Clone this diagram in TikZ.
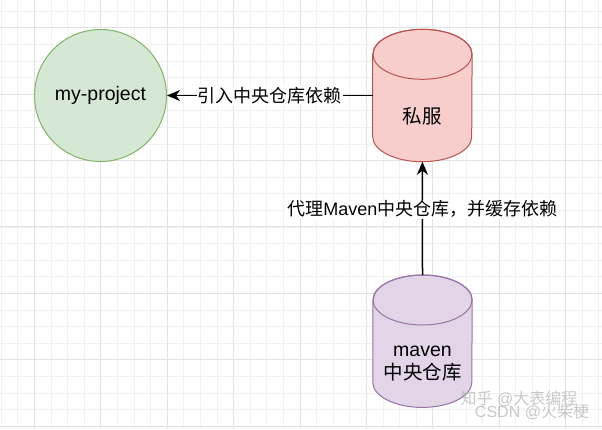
\documentclass[tikz,border=0pt]{standalone}
\usepackage{fontspec}
\setmainfont{Liberation Sans}
\newfontfamily\cjk{Noto Sans CJK SC}
\usetikzlibrary{arrows.meta}

\definecolor{projfill}{HTML}{D5E8D4}
\definecolor{projline}{HTML}{82B366}
\definecolor{sifufill}{HTML}{F8CECC}
\definecolor{sifuline}{HTML}{B85450}
\definecolor{mavfill}{HTML}{E1D5E7}
\definecolor{mavline}{HTML}{9673A6}
\definecolor{gridminor}{HTML}{F1F1F1}
\definecolor{gridmajor}{HTML}{E2E2E2}

\begin{document}
\begin{tikzpicture}[x=1pt, y=-1pt,
    every node/.style={font=\fontsize{18}{23}\selectfont},
    big text/.style={font=\fontsize{19.5}{23.5}\selectfont},
    repo/.style={rectangle, minimum width=99pt, minimum height=132pt,
                 inner sep=0pt},
    capsize/.style={x radius=49.5pt, y radius=25pt},
    conn/.style={line width=1.5pt,
                 -{Stealth[length=13pt, width=11pt, inset=4pt]}},
    lbl/.style={fill=white, inner sep=1pt},
    mark text/.style={font=\fontsize{16}{16}\selectfont,
                      text=gray!60, opacity=0.7}]
  % canvas and grid
  \useasboundingbox[fill=white] (0,0) rectangle (602,429);
  \foreach \i in {0,...,36}
    \draw[gridminor, line width=0.6pt] ({1.1+16.6*\i},0) -- ({1.1+16.6*\i},429);
  \foreach \j in {0,...,25}
    \draw[gridminor, line width=0.6pt] (0,{11+16.6*\j}) -- (602,{11+16.6*\j});
  \foreach \i in {0,...,8}
    \draw[gridmajor, line width=0.7pt] ({34.3+66.4*\i},0) -- ({34.3+66.4*\i},429);
  \foreach \j in {0,...,6}
    \draw[gridmajor, line width=0.7pt] (0,{27.6+66.4*\j}) -- (602,{27.6+66.4*\j});

  % nodes
  \node[circle, draw=projline, fill=projfill, line width=1pt, big text,
        minimum size=132pt, inner sep=0pt] (proj) at (100.5,95.5) {my-project};
  \node[repo] (sifu) at (422.4,95.5) {};
  \node[repo] (mav) at (422.5,341.2) {};

  % cylinders
  \foreach \nm/\cl in {sifu/sifu, mav/mav} {
    \filldraw[draw=\cl line, fill=\cl fill, line width=1pt]
      ([yshift=-25pt]\nm.north west) -- ([yshift=25pt]\nm.south west)
      arc[start angle=180, end angle=360, capsize]
      -- ([yshift=-25pt]\nm.north east)
      arc[start angle=0, end angle=180, capsize] -- cycle;
    \draw[\cl line, line width=1pt] ([yshift=-25pt]\nm.north) ellipse[capsize];
  }
  \node[big text] (sifutext) at (422.4,116.7) {\cjk 私服};
  \node[big text, align=center] (mavtext) at (422.5,363.5)
    {maven\\{\cjk 中央仓库}};

  % connectors
  \draw[conn] (sifu.west) -- node[lbl] (pull) {\cjk 引入中央仓库依赖} (proj.east);
  \draw[conn] (mav.north) -- node[lbl, pos=0.58] (proxy)
    {{\cjk 代理}Maven{\cjk 中央仓库，并缓存依赖}} (sifu.south);

  % watermarks
  \node[mark text] (zhihu) at (519,399) {{\cjk 知乎} @{\cjk 大表编程}};
  \node[mark text] (csdn) at (532,412) {CSDN @{\cjk 火柴梗}};
\end{tikzpicture}
\end{document}
